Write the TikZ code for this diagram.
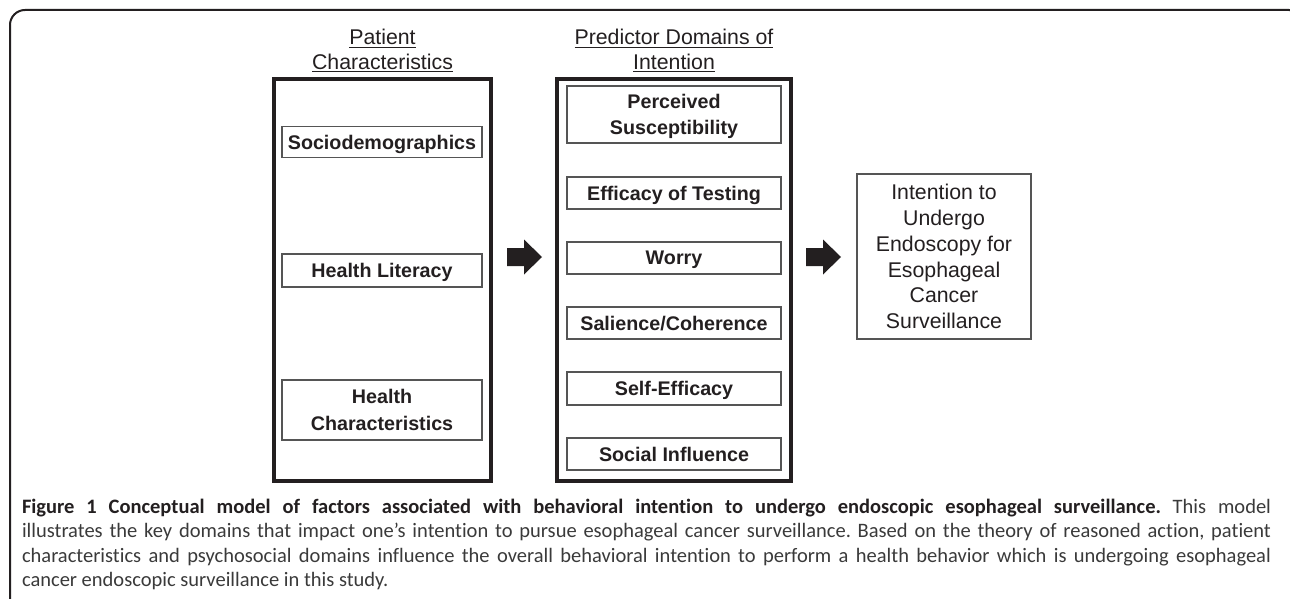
\documentclass[tikz,border=0pt]{standalone}
\usepackage{fontspec}
\setmainfont{Liberation Sans}
\newfontfamily\capfont{Carlito}[Ligatures=NoCommon]
\definecolor{ink}{HTML}{231F20}
\definecolor{capgray}{HTML}{3A3A3A}
\definecolor{boxline}{HTML}{555555}
\frenchspacing
\begin{document}
\begin{tikzpicture}[x=1pt,y=-1pt,
  every node/.style={inner sep=0pt,outer sep=0pt,text=ink},
  frameline/.style={draw=ink,line width=2pt,rounded corners=15pt},
  bigbox/.style={draw=ink,line width=4pt},
  itembox/.style={draw=boxline,line width=1.2pt,align=center,text depth=0pt,
    font=\bfseries\fontsize{19.7}{26.5}\selectfont},
  intentbox/.style={draw=boxline,line width=1.2pt,align=center,text depth=0pt,
    font=\fontsize{21.3}{25.7}\selectfont},
  titletext/.style={anchor=base,font=\fontsize{21.3}{25}\selectfont},
  uline/.style={draw=ink,line width=1.3pt},
  blockarrow/.style={fill=ink,draw=none},
  captext/.style={anchor=base west,text=capgray,font=\capfont\fontsize{20.5}{24}\selectfont}
  ]
\useasboundingbox (0,0) rectangle (1290,599);
\clip (0,0) rectangle (1290,599);
% outer frame
\draw[frameline] (10,640) -- (10,10) -- (1304,10) -- (1304,640);

% titles
\node[titletext] (t1a) at (382.5,45) {Patient};
\node[titletext] (t1b) at (382.5,69.5) {Characteristics};
\node[titletext] (t2a) at (674,45) {Predictor Domains of};
\node[titletext] (t2b) at (674,69.5) {Intention};
\foreach \n in {t1a,t1b,t2a,t2b}
  \draw[uline] ([yshift=-2.2pt]\n.base west) -- ([yshift=-2.2pt]\n.base east);

% big boxes
\node[bigbox,minimum width=217pt,minimum height=402pt] (pc) at (382.5,280) {};
\node[bigbox,minimum width=234pt,minimum height=402pt] (pd) at (674,280) {};

% patient characteristics
\node[itembox,minimum width=200pt,minimum height=30.5pt] (socio) at (382,142) {Sociodemographics};
\node[itembox,minimum width=200pt,minimum height=33pt] (lit) at (382,270.5) {Health Literacy};
\node[itembox,minimum width=200pt,minimum height=60pt] (hchar) at (382,410) {Health\\Characteristics};

% predictor domains
\node[itembox,minimum width=214pt,minimum height=57pt] (susc) at (674,114.5) {Perceived\\Susceptibility};
\node[itembox,minimum width=214pt,minimum height=32pt] (effic) at (674,193) {Efficacy of Testing};
\node[itembox,minimum width=214pt,minimum height=32pt] (worry) at (674,258) {Worry};
\node[itembox,minimum width=214pt,minimum height=32pt] (sal) at (674,323) {Salience/Coherence};
\node[itembox,minimum width=214pt,minimum height=33pt] (self) at (674,388.5) {Self-Efficacy};
\node[itembox,minimum width=214pt,minimum height=32pt] (soc) at (674,454) {Social Influence};

% outcome
\node[intentbox,minimum width=174pt,minimum height=165pt] (intent) at (944,256.5)
  {Intention to\\Undergo\\Endoscopy for\\Esophageal\\Cancer\\Surveillance};

% block arrows
\coordinate (a1) at (507,257);
\coordinate (a2) at (806,257);
\foreach \c in {a1,a2}
  \fill[blockarrow,shift={(\c)}] (0,-9) -- (17,-9) -- (17,-17.5) -- (35,0) -- (17,17.5) -- (17,9) -- (0,9) -- cycle;

% caption
\node[captext] (cap1) at (22,513) {\makebox[1249pt][s]{\textcolor{ink}{\bfseries Figure 1 Conceptual model of factors associated with behavioral intention to undergo endoscopic esophageal surveillance.} This model}};
\node[captext] (cap2) at (22,537.5) {\makebox[1249pt][s]{illustrates the key domains that impact one’s intention to pursue esophageal cancer surveillance. Based on the theory of reasoned action, patient}};
\node[captext] (cap3) at (22,562) {\makebox[1249pt][s]{characteristics and psychosocial domains influence the overall behavioral intention to perform a health behavior which is undergoing esophageal}};
\node[captext] (cap4) at (22,586.5) {cancer endoscopic surveillance in this study.};
\end{tikzpicture}
\end{document}
